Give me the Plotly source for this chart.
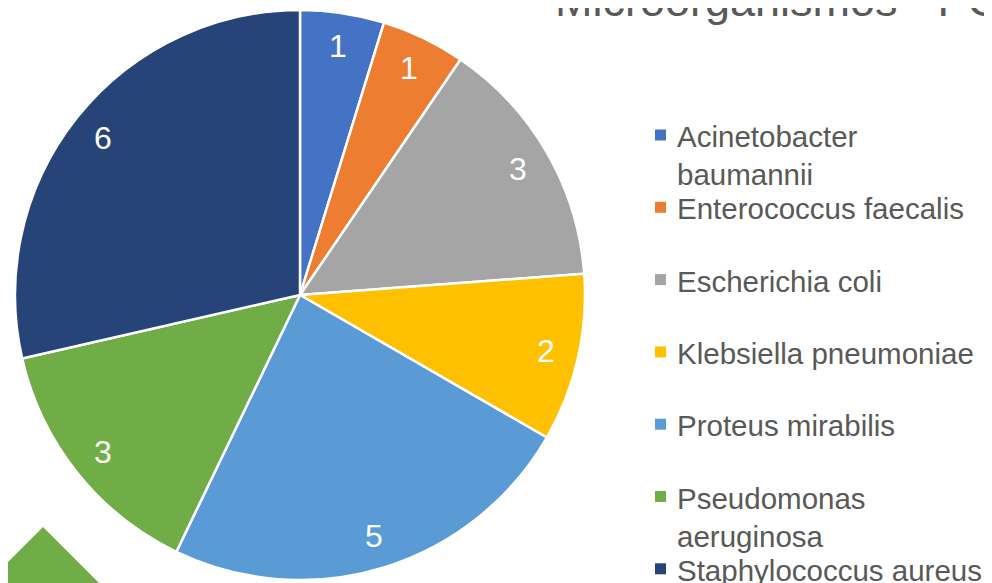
import math
import plotly.graph_objects as go

# ---- data ----
labels = ["Acinetobacter baumannii", "Enterococcus faecalis", "Escherichia coli",
          "Klebsiella pneumoniae", "Proteus mirabilis", "Pseudomonas aeruginosa",
          "Staphylococcus aureus"]
legend_text = ["Acinetobacter<br>baumannii", "Enterococcus faecalis", "Escherichia coli",
               "Klebsiella pneumoniae", "Proteus mirabilis", "Pseudomonas<br>aeruginosa",
               "Staphylococcus aureus"]
values = [1, 1, 3, 2, 5, 3, 6]
colors = ["#4472C4", "#ED7D31", "#A5A5A5", "#FFC000", "#5B9BD5", "#70AD47", "#264478"]
title_text = "Microorganismos - PC"

W, H = 992, 583
OFF = 8  # page body margin offset
FONT = "Liberation Sans"

def px(x):
    return (x - OFF) / W

def py(y):
    return 1 - (y - OFF) / H

# pie geometry (pixels in the screenshot)
cx, cy, R = 300, 295, 285

fig = go.Figure()
fig.add_trace(go.Pie(
    labels=labels, values=values, sort=False, direction="clockwise", rotation=0,
    marker=dict(colors=colors, line=dict(color="white", width=2.5)),
    textinfo="none", hoverinfo="label+value", showlegend=False,
    domain=dict(x=[px(cx - R), px(cx + R)], y=[py(cy + R), py(cy - R)]),
))

annotations = []
shapes = []

# data labels placed along each slice's mid-angle
total = sum(values)
cum = 0
for v in values:
    theta = 2 * math.pi * (cum + v / 2) / total
    cum += v
    r = 0.885 * R
    x = cx + r * math.sin(theta)
    y = cy - r * math.cos(theta)
    annotations.append(dict(x=px(x), y=py(y), xref="paper", yref="paper",
                            text=str(v), showarrow=False,
                            font=dict(family=FONT, size=32, color="white"),
                            xanchor="center", yanchor="middle"))

# legend (manual)
leg_y0, leg_step = 135, 72.3
for i, (t, c) in enumerate(zip(legend_text, colors)):
    yc = leg_y0 + leg_step * i
    shapes.append(dict(type="rect", xref="paper", yref="paper",
                       x0=px(655), x1=px(666), y0=py(yc + 5.5), y1=py(yc - 5.5),
                       fillcolor=c, line=dict(width=0)))
    annotations.append(dict(x=px(675), y=py(yc - 17), xref="paper", yref="paper",
                            text=t, showarrow=False, align="left",
                            xanchor="left", yanchor="top",
                            font=dict(family=FONT, size=29.5, color="#595959")))

# title (cut off at the top/right like the reference)
annotations.append(dict(x=px(553), y=py(28), xref="paper", yref="paper",
                        text=title_text, showarrow=False, xanchor="left", yanchor="bottom",
                        font=dict(family=FONT, size=45, color="#595959")))

# decorative green diamond bottom-left
ax, ay, d = 43, 527, 56
path = "M {} {} L {} {} L {} {} L {} {} Z".format(
    px(ax), py(ay), px(ax + d), py(ay + d), px(ax), py(ay + 2 * d), px(ax - d), py(ay + d))
shapes.append(dict(type="path", xref="paper", yref="paper", path=path,
                   fillcolor="#70AD47", line=dict(width=0), layer="below"))

fig.update_layout(
    width=W, height=H, margin=dict(l=0, r=0, t=0, b=0),
    paper_bgcolor="white", plot_bgcolor="white",
    annotations=annotations, shapes=shapes,
    font=dict(family=FONT),
)

fig.write_html("out.html")
